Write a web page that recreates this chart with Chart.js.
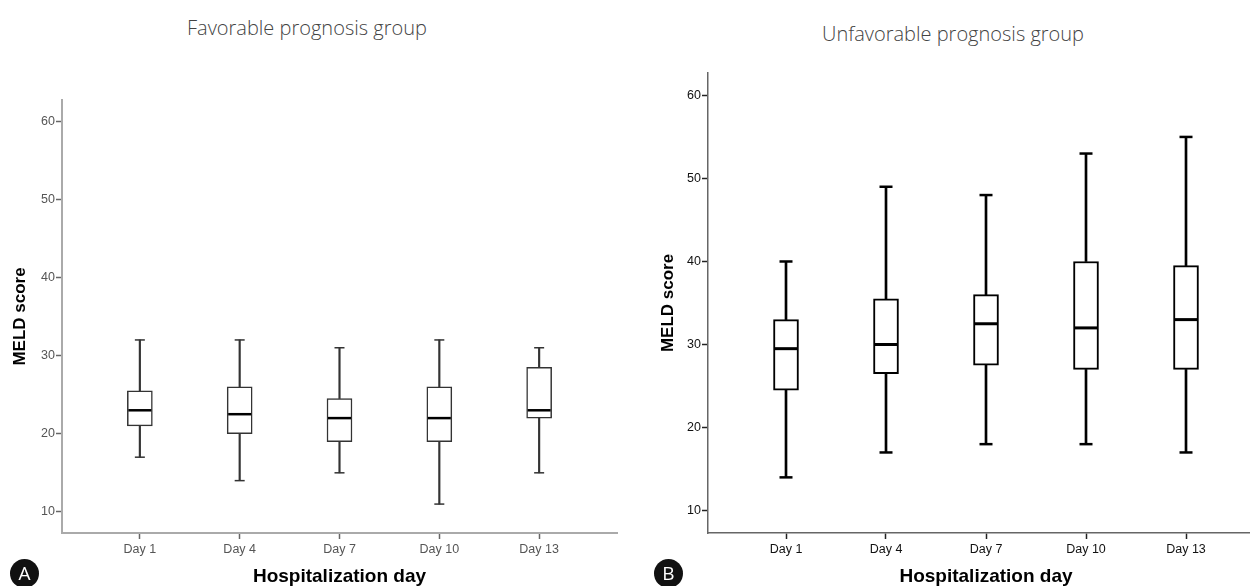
<!DOCTYPE html>
<html>
<head>
<meta charset="utf-8">
<script src="https://cdn.jsdelivr.net/npm/chart.js@4.4.0/dist/chart.umd.min.js"></script>
<style>
    html, body { margin: 0; padding: 0; width: 1250px; height: 586px; overflow: hidden; background: #fff; }
    .panel { position: absolute; top: 0; height: 586px; }
    #panelA { left: 0; width: 640px; }
    #panelB { left: 648px; width: 616px; }
    .title { position: absolute; font-family: "Open Sans", sans-serif; font-weight: 300; font-size: 20px; line-height: 1; color: #444; white-space: nowrap; }
    .badge { position: absolute; width: 29px; height: 29px; border-radius: 50%; background: #111; color: #fff;
             font-family: "Open Sans", sans-serif; font-size: 19px; line-height: 29px; text-align: center; }
</style>
</head>
<body>
<div class="title" style="left:187px; top:18px;">Favorable prognosis group</div>
<div class="title" style="left:822px; top:24px;">Unfavorable prognosis group</div>
<div class="panel" id="panelA"><canvas id="chartA" width="640" height="586"></canvas></div>
<div class="panel" id="panelB"><canvas id="chartB" width="616" height="586"></canvas></div>
<div class="badge" style="left:10px; top:559px;">A</div>
<div class="badge" style="left:654px; top:559px;">B</div>
<script>
const days = ['Day 1', 'Day 4', 'Day 7', 'Day 10', 'Day 13'];
const yTicks = [10, 20, 30, 40, 50, 60];

// Favorable prognosis group
const favMin = [17, 14, 15, 11, 15];
const favQ1 = [21, 20, 19, 19, 22];
const favMedian = [23, 22.5, 22, 22, 23];
const favQ3 = [25.5, 26, 24.5, 26, 28.5];
const favMax = [32, 32, 31, 32, 31];

// Unfavorable prognosis group
const unfavMin = [14, 17, 18, 18, 17];
const unfavQ1 = [24.5, 26.5, 27.5, 27, 27];
const unfavMedian = [29.5, 30, 32.5, 32, 33];
const unfavQ3 = [33, 35.5, 36, 40, 39.5];
const unfavMax = [40, 49, 48, 53, 55];

function createBoxChart(canvasId, stats, look) {
    const ctx = document.getElementById(canvasId).getContext('2d');
    const pts = arr => arr.map((v, i) => ({ x: i, y: v }));
    const ranges = (lo, hi) => lo.map((v, i) => ({ x: i, y: [v, hi[i]] }));

    return new Chart(ctx, {
        type: 'bar',
        data: {
            datasets: [
                {   // медиана
                    type: 'line', showLine: false, data: pts(stats.median),
                    pointStyle: 'line', pointRadius: 11.5, pointHoverRadius: 11.5,
                    borderColor: '#000', pointBorderColor: '#000', pointBorderWidth: look.median, order: 0
                },
                {   // усы: концы
                    type: 'line', showLine: false, data: pts(stats.min).concat(pts(stats.max)),
                    pointStyle: 'line', pointRadius: look.cap, pointHoverRadius: look.cap,
                    borderColor: '#000', pointBorderColor: look.line, pointBorderWidth: look.capWidth, order: 1
                },
                {   // коробка Q1..Q3
                    data: ranges(stats.q1, stats.q3), backgroundColor: '#fff',
                    borderColor: look.line, borderWidth: look.box, borderSkipped: false,
                    barThickness: 25, grouped: false, order: 2
                },
                {
                    data: ranges(stats.min, stats.q1), backgroundColor: look.line,
                    borderWidth: 0, barThickness: look.whisker, grouped: false, order: 3
                },
                {
                    data: ranges(stats.q3, stats.max), backgroundColor: look.line,
                    borderWidth: 0, barThickness: look.whisker, grouped: false, order: 3
                }
            ]
        },
        options: {
            responsive: false,
            animation: false,
            events: [],
            layout: { padding: look.padding, autoPadding: false }, // без автоотступов под точки
            plugins: { legend: { display: false }, tooltip: { enabled: false } },
            scales: {
                x: {
                    type: 'linear', min: -0.78, max: 4.78, offset: false,
                    afterBuildTicks: scale => { scale.ticks = days.map((d, i) => ({ value: i })); },
                    afterFit: scale => {
                        scale.height = 53;
                        scale.paddingLeft = 0;
                        scale.paddingRight = 0;
                    },
                    ticks: {
                        callback: value => days[value],
                        color: look.tickText, font: { family: 'Liberation Sans', size: 12.5 },
                        padding: 3, autoSkip: false, maxRotation: 0
                    },
                    grid: { offset: false, drawOnChartArea: false, tickLength: 6, tickColor: look.tickMark, tickWidth: 1.5 },
                    border: { color: look.axis, width: look.axisWidth },
                    title: {
                        display: true, text: 'Hospitalization day', color: '#000', padding: 0,
                        font: { family: 'Liberation Sans', size: 19, weight: 'bold', lineHeight: 1 }
                    }
                },
                y: {
                    min: 7.3, max: 62.7,
                    afterBuildTicks: scale => { scale.ticks = yTicks.map(v => ({ value: v })); },
                    afterFit: scale => { scale.width = look.yWidth; },
                    ticks: {
                        color: look.tickText, font: { family: 'Liberation Sans', size: 12.5 }, padding: 1
                    },
                    grid: { drawOnChartArea: false, tickLength: 6, tickColor: look.tickMark, tickWidth: 1.5 },
                    border: { color: look.axis, width: look.axisWidth },
                    title: {
                        display: true, text: 'MELD score', color: '#000', padding: { top: 11.5 },
                        font: { family: 'Liberation Sans', size: 17, weight: 'bold', lineHeight: 1 }
                    }
                }
            }
        }
    });
}

createBoxChart('chartA',
    { min: favMin, q1: favQ1, median: favMedian, q3: favQ3, max: favMax },
    {
        padding: { top: 100, right: 23, left: 0, bottom: 0 }, yWidth: 62,
        line: '#333', box: 1.5, whisker: 1.5, median: 2.5, cap: 5, capWidth: 1.5,
        axis: '#aaa', axisWidth: 2, tickMark: '#666', tickText: '#555'
    });

createBoxChart('chartB',
    { min: unfavMin, q1: unfavQ1, median: unfavMedian, q3: unfavQ3, max: unfavMax },
    {
        padding: { top: 73, right: 0, left: 0, bottom: 0 }, yWidth: 60,
        line: '#000', box: 2, whisker: 2, median: 3, cap: 6.5, capWidth: 2.5,
        axis: '#666', axisWidth: 1.5, tickMark: '#222', tickText: '#111'
    });
</script>
</body>
</html>
